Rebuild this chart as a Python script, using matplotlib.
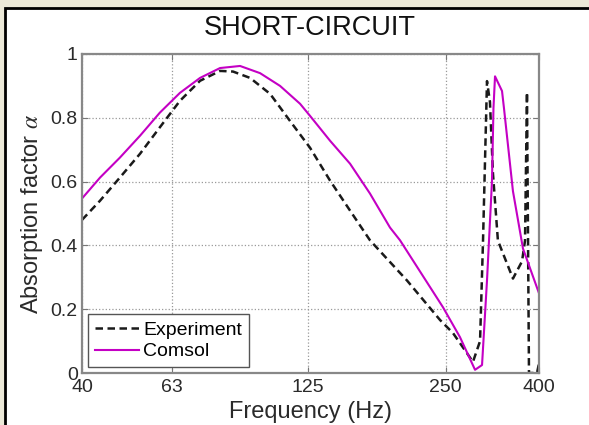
import numpy as np
import matplotlib.pyplot as plt
from matplotlib.patches import Rectangle

plt.rcParams['font.family'] = ['Liberation Sans', 'DejaVu Sans']
plt.rcParams['mathtext.fontset'] = 'stix'

# absorption factor, measured
f_exp = [40, 43.8, 48.4, 53.6, 59.2, 65.5, 72.5, 80.2, 85.6, 93.3, 103.2, 114.1,
         126.2, 139.6, 154.4, 170.7, 205.7, 243, 259.4, 286.8, 297.2, 301.7,
         307.8, 312.4, 317.2, 325.2, 350.8, 367.2, 372.8, 376.5, 380.3, 396, 400]
a_exp = [0.48, 0.54, 0.6125, 0.6875, 0.77, 0.853, 0.916, 0.947, 0.945, 0.925, 0.875, 0.79,
         0.706, 0.603, 0.509, 0.416, 0.29, 0.166, 0.125, 0.035, 0.1, 0.415,
         0.915, 0.85, 0.625, 0.415, 0.296, 0.35, 0.415, 0.88, 0.0, 0.0, 0.03]

# absorption factor, Comsol model
f_com = [40, 43.8, 48.4, 53.6, 59.2, 65.5, 72.5, 80.2, 88.7, 98.1, 108.5, 120,
         126.2, 139.6, 154.4, 170.7, 188.8, 198.6, 246.6, 268.6, 289.8, 300.2,
         307.8, 315.6, 318, 320.5, 332, 335.3, 350.8, 369, 400]
a_com = [0.547, 0.6125, 0.675, 0.744, 0.816, 0.878, 0.925, 0.956, 0.9625, 0.94, 0.9, 0.844,
         0.806, 0.728, 0.656, 0.5625, 0.456, 0.416, 0.206, 0.1125, 0.01, 0.025,
         0.29, 0.6, 0.83, 0.93, 0.884, 0.83, 0.57, 0.39, 0.25]

xticks = [40, 63, 125, 250, 400]
yticks = [0, 0.2, 0.4, 0.6, 0.8, 1]
ylabs = ['0', '0.2', '0.4', '0.6', '0.8', '1']

W, H = 589, 425
fig = plt.figure(figsize=(W / 100, H / 100), dpi=100, facecolor='#ece9d8')
# white panel with a black frame on the left and top
panel = Rectangle((5 / W, -0.1), 1.2, (H - 8) / H + 0.1,
                  transform=fig.transFigure, facecolor='white',
                  edgecolor='black', lw=2, zorder=-10)
fig.patches.append(panel)

ax = fig.add_axes([82 / W, (H - 373) / H, (539 - 82) / W, (373 - 54) / H])
ax.set_xscale('log')
ax.plot(f_exp, a_exp, color='#1a1a1a', lw=1.8, dashes=(3.0, 1.8), label='Experiment')
ax.plot(f_com, a_com, color='#c400c4', lw=1.5, label='Comsol')

ax.set_xlim(40, 400)
ax.set_ylim(0, 1)
ax.set_xticks(xticks)
ax.set_xticklabels([str(t) for t in xticks])
ax.minorticks_off()
ax.set_yticks(yticks)
ax.set_yticklabels(ylabs)
ax.tick_params(direction='in', length=4, width=0.8, color='#777777',
               labelsize=14, labelcolor='#2a2a2a', top=True, right=True, pad=3)
ax.tick_params(axis='x', pad=4)
ax.grid(True, ls=':', color='#999999', lw=0.9)
for s in ax.spines.values():
    s.set_color('#888888')
    s.set_linewidth(1.6)

ax.set_xlabel('Frequency (Hz)', fontsize=17, color='#2a2a2a', labelpad=4)
ax.set_ylabel(r'Absorption factor $\alpha$', fontsize=17, color='#2a2a2a', labelpad=4)
fig.text(0.526, 1 - 28 / H, 'SHORT-CIRCUIT', ha='center', va='center',
         fontsize=19.5, color='#111111')

leg = ax.legend(loc='lower left', fontsize=14, handlelength=2.3, handletextpad=0.2,
                borderaxespad=0.3, fancybox=False, framealpha=1, borderpad=0.35,
                labelspacing=0.2)
leg.get_frame().set_edgecolor('#555555')
leg.get_frame().set_linewidth(1.0)

fig.savefig('out.png', dpi=100, facecolor=fig.get_facecolor())
